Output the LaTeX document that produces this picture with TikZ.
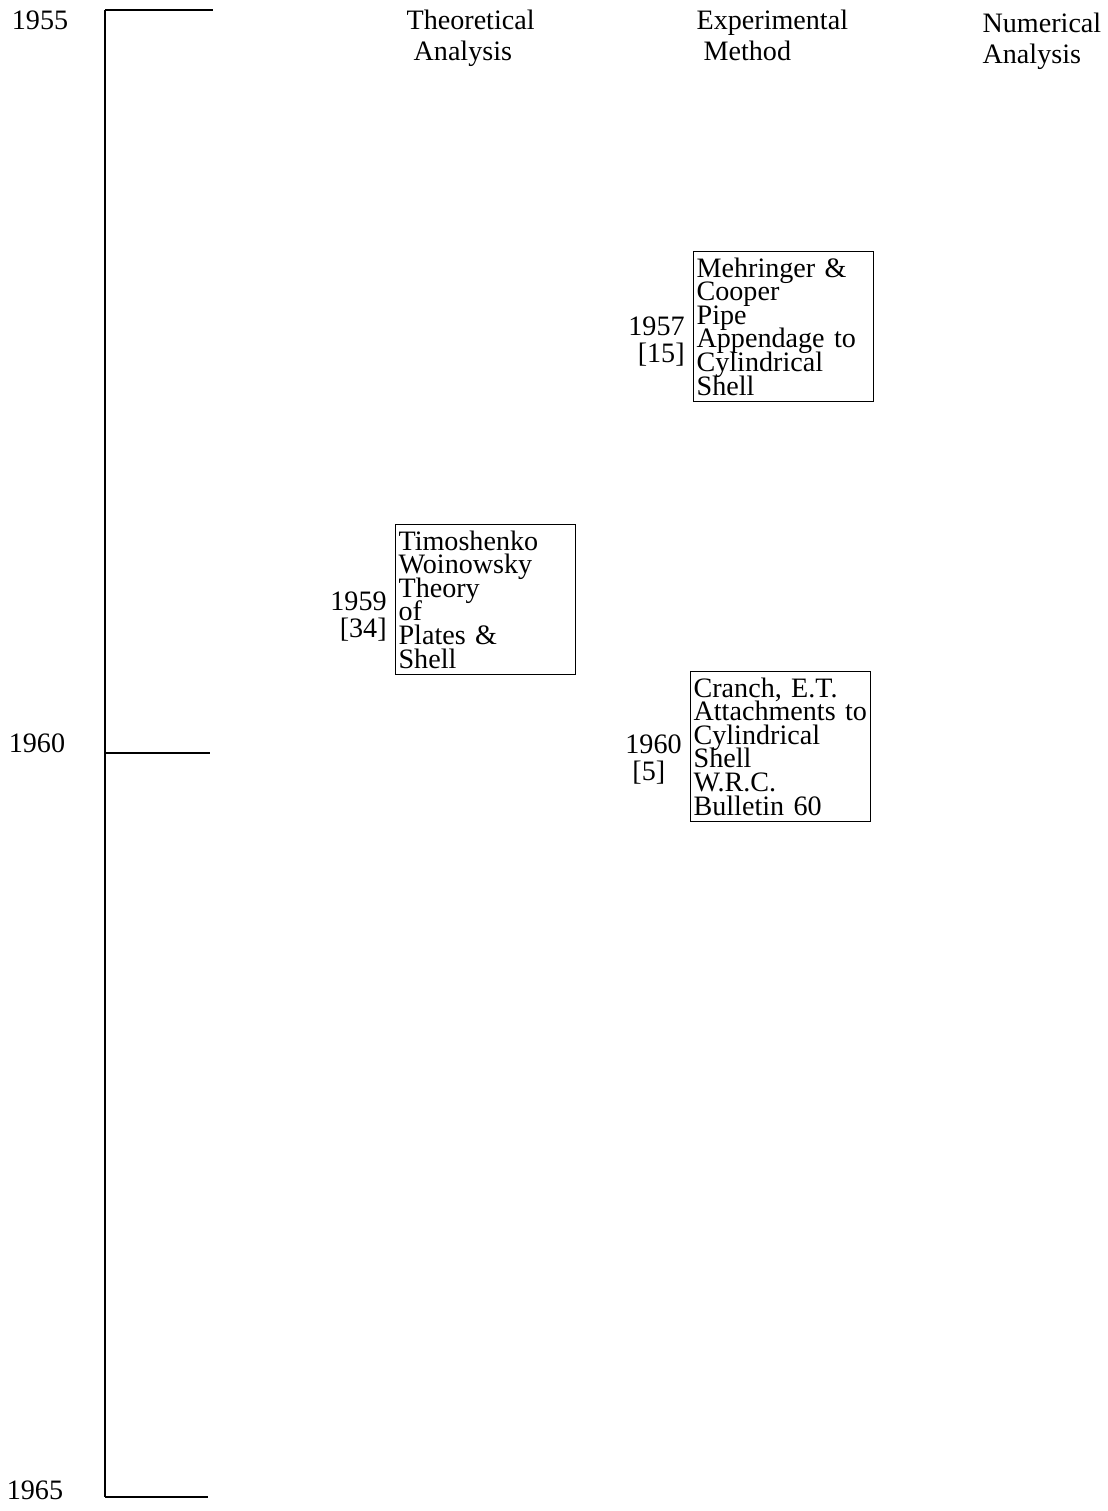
\documentclass[tikz,border=0pt]{standalone}
\usepackage{fontspec}
\setmainfont{Liberation Serif}
\usetikzlibrary{positioning}

\newcommand\tightfont[2]{\fontsize{#1}{#2}\selectfont\lineskiplimit=-20pt\relax}

\begin{document}
\begin{tikzpicture}[x=0.02cm,y=-0.02cm,line width=0.7pt,
    refbox/.style={rectangle,draw,anchor=north west,align=left,text width=3.48cm,inner xsep=1.5pt,inner ysep=1pt,minimum width=3.6cm,minimum height=3cm,font=\tightfont{16}{13.4}},
    yearlbl/.style={align=right,anchor=east,inner sep=1pt,font=\tightfont{16}{15}},
    colhead/.style={align=left,anchor=north west,inner sep=0pt,font=\fontsize{16}{18}\selectfont},
    axislbl/.style={inner sep=0pt,font=\fontsize{16}{18}\selectfont}]
  \useasboundingbox (0,0) rectangle (1107,1511);

  % time axis
  \coordinate (y55) at (105,10);
  \coordinate (y60) at (105,753);
  \coordinate (y65) at (105,1497);
  \draw (y55) -- (y65);
  \draw (y55) -- ++(108,0);
  \draw (y60) -- ++(105,0);
  \draw (y65) -- ++(103,0);
  \node[axislbl] (l55) at (40,20) {1955};
  \node[axislbl] (l60) at (37,743) {1960};
  \node[axislbl] (l65) at (35,1490) {1965};

  % column headings
  \node[colhead] (theo) at (406,9) {Theoretical\\\hspace*{4pt}Analysis};
  \node[colhead] (expe) at (696,9) {Experimental\\\hspace*{4pt}Method};
  \node[colhead] (nume) at (982,12) {Numerical\\Analysis};

  % references
  \node[refbox] (mehr) at (693,251) {Mehringer \&\\Cooper\\Pipe\\Appendage~to\\Cylindrical\\Shell};
  \node[yearlbl] (mehryr) at ([shift={(-6,15)}]mehr.west) {1957\\{}[15]};

  \node[refbox] (timo) at (395,524) {Timoshenko\\Woinowsky\\Theory\\of\\Plates \&\\Shell};
  \node[yearlbl] (timoyr) at ([shift={(-6,17)}]timo.west) {1959\\{}[34]};

  \node[refbox] (cran) at (690,671) {Cranch, E.T.\\Attachments~to\\Cylindrical\\Shell\\W.R.C.\\Bulletin 60};
  \node[yearlbl,align=left] (cranyr) at ([shift={(-6,13)}]cran.west) {1960\\\hspace*{4pt}[5]};
\end{tikzpicture}
\end{document}
